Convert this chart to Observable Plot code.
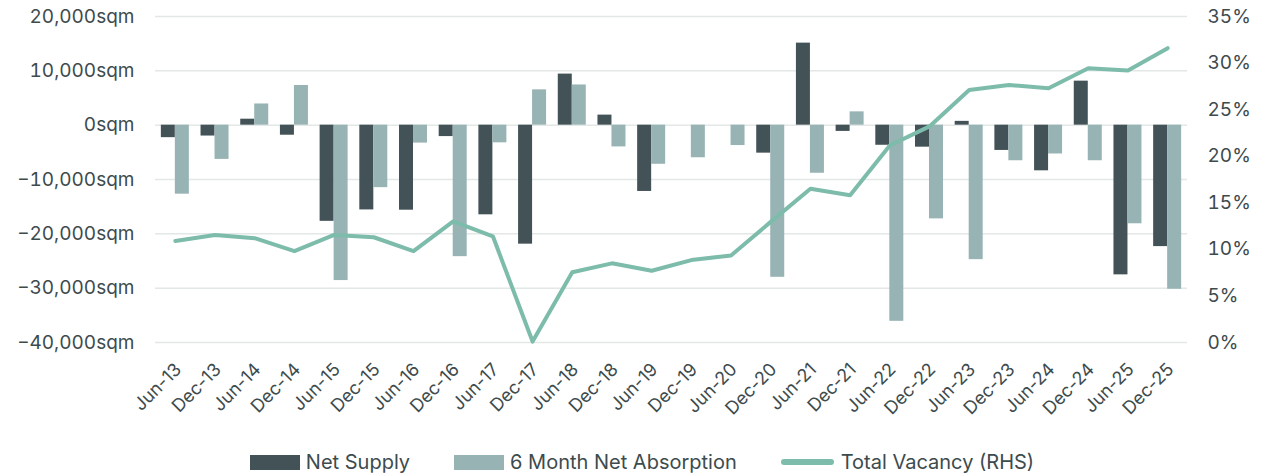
<!DOCTYPE html>
<html>
<head>
<meta charset="utf-8">
<script src="https://cdn.jsdelivr.net/npm/d3@7"></script>
<script src="https://cdn.jsdelivr.net/npm/@observablehq/plot@0.6"></script>
<style>
  html, body { margin: 0; padding: 0; background: #fff; }
  body { width: 1276px; height: 474px; overflow: hidden; font-family: Inter, Roboto, sans-serif; }
  #legend { display: flex; justify-content: center; align-items: center; height: 24px; padding-top: 20px; font-size: 20px; color: #3d4b4d; margin-left: 8px; }
  .item { display: flex; align-items: center; margin: 0 22px; }
  .sw { width: 50px; height: 15px; margin-right: 6px; }
  .ln { width: 53px; height: 6px; border-radius: 3px; margin-right: 7px; }
</style>
</head>
<body>
<div id="chart"></div>
<div id="legend"></div>
<script>
const categories = ["Jun-13","Dec-13","Jun-14","Dec-14","Jun-15","Dec-15","Jun-16","Dec-16","Jun-17","Dec-17","Jun-18","Dec-18","Jun-19","Dec-19","Jun-20","Dec-20","Jun-21","Dec-21","Jun-22","Dec-22","Jun-23","Dec-23","Jun-24","Dec-24","Jun-25","Dec-25"];
const netSupply = [-2300,-2000,1100,-1850,-17700,-15600,-15650,-2100,-16500,-21900,9400,1850,-12200,0,0,-5150,15100,-1150,-3700,-4050,700,-4650,-8400,8100,-27550,-22350];
const netAbsorption = [-12700,-6300,3900,7300,-28600,-11500,-3300,-24200,-3250,6500,7400,-4000,-7200,-6000,-3750,-28000,-8850,2450,-36100,-17250,-24750,-6550,-5300,-6550,-18150,-30200];
const totalVacancy = [10.9,11.55,11.2,9.8,11.55,11.3,9.8,13.0,11.4,0.1,7.55,8.5,7.7,8.85,9.35,12.95,16.5,15.8,21.15,23.2,27.1,27.65,27.3,29.45,29.2,31.6];
const leftTicks = [20000,10000,0,-10000,-20000,-30000,-40000];
const rightTicks = [0,5,10,15,20,25,30,35];
const seriesNames = ["Net Supply","6 Month Net Absorption","Total Vacancy (RHS)"];
const colors = ["#435257","#97b3b4","#7dbcab"];

const yMin = -40000, yMax = 20000, rMax = 35;
const toSqm = v => yMin + v / rMax * (yMax - yMin);
const fromSqm = s => (s - yMin) / (yMax - yMin) * rMax;

const rows = categories.map((c, i) => ({cat: c, supply: netSupply[i], absorb: netAbsorption[i], vac: toSqm(totalVacancy[i])}));

const width = 1276, marginLeft = 155, marginRight = 89;
const bw = (width - marginLeft - marginRight) / categories.length;
const barW = 14;
const half = bw / 2;

const fmt = d3.format(",");
const textColor = "#3d4b4d";

const chart = Plot.plot({
  width,
  height: 430,
  marginTop: 16,
  marginBottom: 88,
  marginLeft,
  marginRight,
  style: {fontFamily: "Inter, Roboto, sans-serif", color: textColor, background: "#fff"},
  x: {type: "band", domain: categories, padding: 0, round: false, axis: null},
  y: {domain: [yMin, yMax], axis: null},
  marks: [
    Plot.gridY(leftTicks, {stroke: "#e3e8e7", strokeOpacity: 1, strokeWidth: 1.5}),
    Plot.barY(rows, {x: "cat", y: "supply", fill: colors[0], insetLeft: half - barW, insetRight: half}),
    Plot.barY(rows, {x: "cat", y: "absorb", fill: colors[1], insetLeft: half, insetRight: half - barW}),
    Plot.line(rows, {x: "cat", y: "vac", stroke: colors[2], strokeWidth: 4, strokeLinejoin: "round", strokeLinecap: "round"}),
    Plot.axisY(leftTicks, {anchor: "left", tickSize: 0, tickPadding: 21, fontSize: 19, tickFormat: d => fmt(d) + "sqm", label: null, fill: textColor}),
    Plot.axisY(rightTicks.map(toSqm), {anchor: "right", tickSize: 0, tickPadding: 20, fontSize: 19, tickFormat: d => Math.round(fromSqm(d)) + "%", label: null, fill: textColor}),
    Plot.axisX(categories, {anchor: "bottom", tickSize: 0, tickPadding: 24, dx: 3, tickRotate: -45, fontSize: 18, label: null, fill: textColor})
  ]
});
document.getElementById("chart").appendChild(chart);

const legend = document.getElementById("legend");
seriesNames.forEach((name, i) => {
  const item = document.createElement("div");
  item.className = "item";
  const sw = document.createElement("div");
  sw.className = i < 2 ? "sw" : "ln";
  sw.style.background = colors[i];
  const t = document.createElement("span");
  t.textContent = name;
  item.appendChild(sw);
  item.appendChild(t);
  legend.appendChild(item);
});
</script>
</body>
</html>
